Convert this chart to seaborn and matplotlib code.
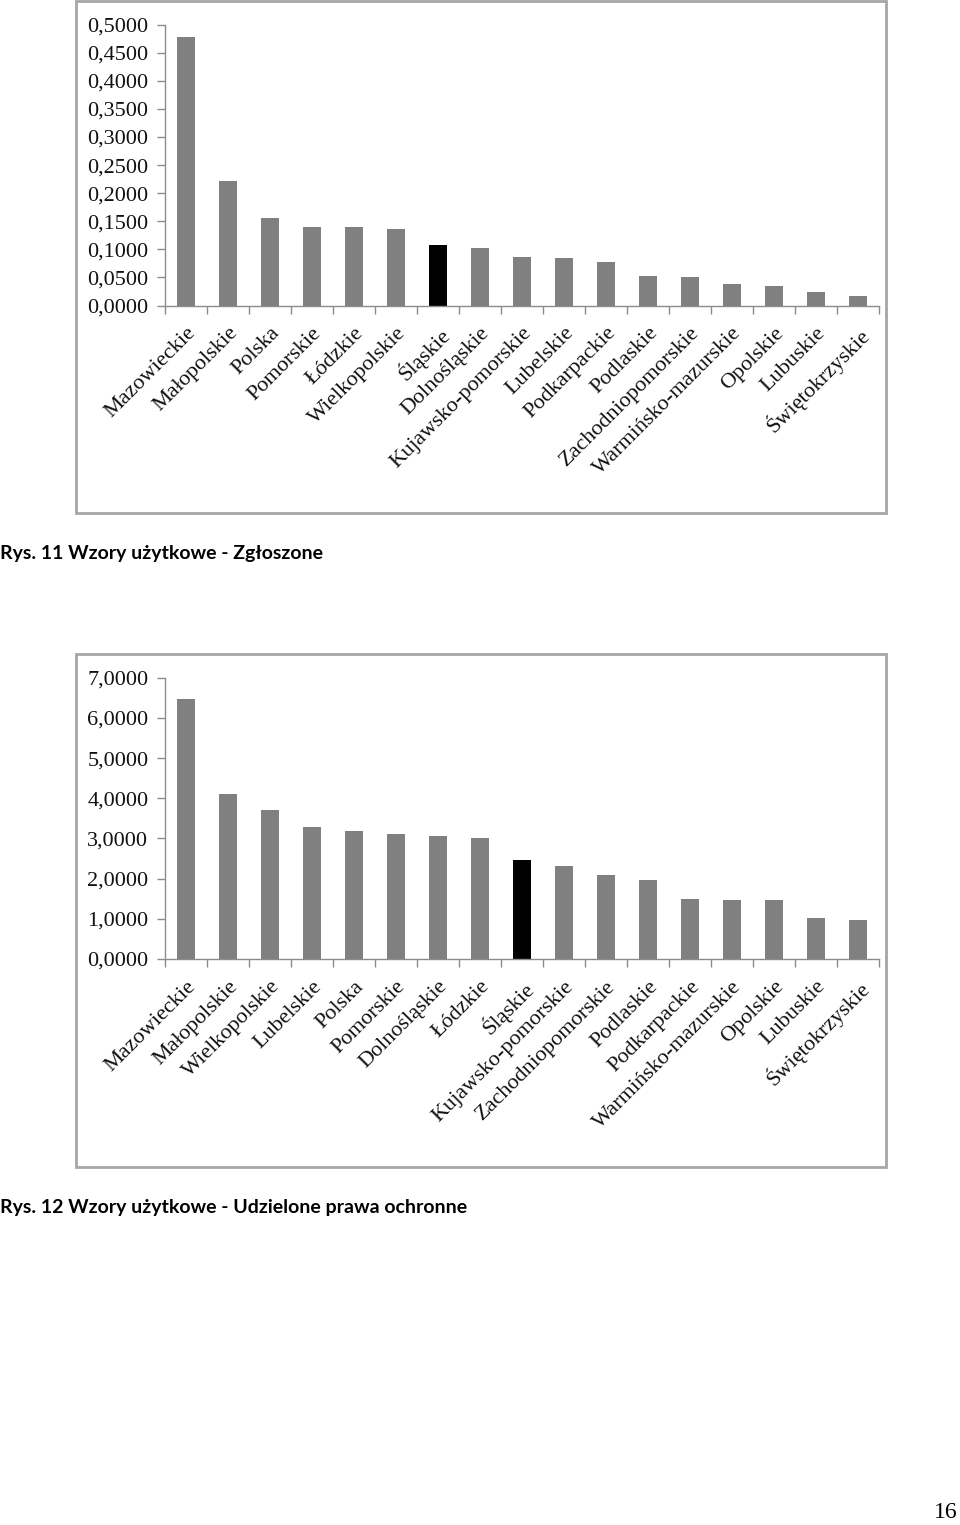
import matplotlib
matplotlib.use("Agg")
import matplotlib.pyplot as plt
import seaborn as sns
import pandas as pd
from matplotlib.patches import Rectangle
from matplotlib.ticker import FixedLocator, FuncFormatter

# ---- data ----
regions_1 = ["Mazowieckie", "Małopolskie", "Polska", "Pomorskie", "Łódzkie",
             "Wielkopolskie", "Śląskie", "Dolnośląskie", "Kujawsko-pomorskie",
             "Lubelskie", "Podkarpackie", "Podlaskie", "Zachodniopomorskie",
             "Warmińsko-mazurskie", "Opolskie", "Lubuskie", "Świętokrzyskie"]
values_1 = [0.478, 0.222, 0.155, 0.139, 0.139, 0.1355, 0.107, 0.103, 0.086,
            0.084, 0.077, 0.052, 0.050, 0.039, 0.0355, 0.0243, 0.0171]
yticks_1 = [0.0, 0.05, 0.10, 0.15, 0.20, 0.25, 0.30, 0.35, 0.40, 0.45, 0.50]

regions_2 = ["Mazowieckie", "Małopolskie", "Wielkopolskie", "Lubelskie", "Polska",
             "Pomorskie", "Dolnośląskie", "Łódzkie", "Śląskie", "Kujawsko-pomorskie",
             "Zachodniopomorskie", "Podlaskie", "Podkarpackie", "Warmińsko-mazurskie",
             "Opolskie", "Lubuskie", "Świętokrzyskie"]
values_2 = [6.48, 4.10, 3.72, 3.28, 3.19, 3.11, 3.06, 3.01, 2.47, 2.32, 2.10,
            1.97, 1.49, 1.47, 1.46, 1.03, 0.96]
yticks_2 = [0, 1, 2, 3, 4, 5, 6, 7]

caption_1 = "Rys. 11 Wzory użytkowe - Zgłoszone"
caption_2 = "Rys. 12 Wzory użytkowe - Udzielone prawa ochronne"
page_no = "16"
highlight = "Śląskie"

BAR = "#808080"
HI = "#000000"
SPINE = "#8c8c8c"

sns.set_theme(style="white")
plt.rcParams["font.family"] = ["Liberation Serif", "DejaVu Serif"]

W, H = 960, 1525
fig = plt.figure(figsize=(W / 100, H / 100), dpi=100)


def px_axes(x0, y0, x1, y1):
    return fig.add_axes([x0 / W, 1 - y1 / H, (x1 - x0) / W, (y1 - y0) / H])


def frame(x0, y0, x1, y1):
    fig.add_artist(Rectangle((x0 / W, 1 - y1 / H), (x1 - x0) / W, (y1 - y0) / H,
                             transform=fig.transFigure, fill=False,
                             edgecolor="#a6a6a6", linewidth=2))


def draw(ax, cats, vals, ticks, fmt):
    df = pd.DataFrame({"cat": cats, "val": vals})
    pal = {c: (HI if c == highlight else BAR) for c in cats}
    sns.barplot(data=df, x="cat", y="val", hue="cat", palette=pal, legend=False,
                width=0.41, ax=ax, saturation=1, edgecolor="none")
    n = len(cats)
    ax.set_xlim(-0.5, n - 0.5)
    ax.set_ylim(ticks[0], ticks[-1])
    ax.set_yticks(ticks)
    ax.yaxis.set_major_formatter(FuncFormatter(lambda v, p: fmt.format(v).replace(".", ",")))
    ax.set_xticks(range(n))
    ax.set_xticklabels(cats, rotation=45, ha="right", rotation_mode="anchor",
                       fontsize=16)
    ax.xaxis.set_minor_locator(FixedLocator([i - 0.5 for i in range(n + 1)]))
    ax.tick_params(axis="x", which="major", length=0, pad=13)
    ax.tick_params(axis="x", which="minor", length=6, width=1, color=SPINE,
                   direction="out", bottom=True)
    ax.tick_params(axis="y", which="major", length=6, width=1, color=SPINE,
                   direction="out", left=True, labelsize=16, pad=6)
    for s in ["top", "right"]:
        ax.spines[s].set_visible(False)
    for s in ["left", "bottom"]:
        ax.spines[s].set_color(SPINE)
        ax.spines[s].set_linewidth(1)
    ax.set_xlabel("")
    ax.set_ylabel("")
    for lbl in ax.get_yticklabels():
        lbl.set_color("#111111")
    for lbl in ax.get_xticklabels():
        lbl.set_color("#111111")


# chart 1
frame(76, 1, 886, 513)
ax1 = px_axes(165, 24.7, 879, 305.5)
draw(ax1, regions_1, values_1, yticks_1, "{:.4f}")

# chart 2
frame(76, 654, 886, 1167)
ax2 = px_axes(165, 677.7, 879, 959)
draw(ax2, regions_2, values_2, yticks_2, "{:.4f}")

cap_font = ["Lato", "DejaVu Sans"]
fig.text(0 / W, 1 - 553 / H, caption_1, fontsize=14, fontweight="bold",
         family=cap_font, ha="left", va="center", color="black")
fig.text(0 / W, 1 - 1207 / H, caption_2, fontsize=14, fontweight="bold",
         family=cap_font, ha="left", va="center", color="black")
fig.text(958 / W, 1 - 1513 / H, page_no, fontsize=17, ha="right", va="center",
         family=["Liberation Serif"], color="black")

fig.savefig("out.png", dpi=100, facecolor="white")
